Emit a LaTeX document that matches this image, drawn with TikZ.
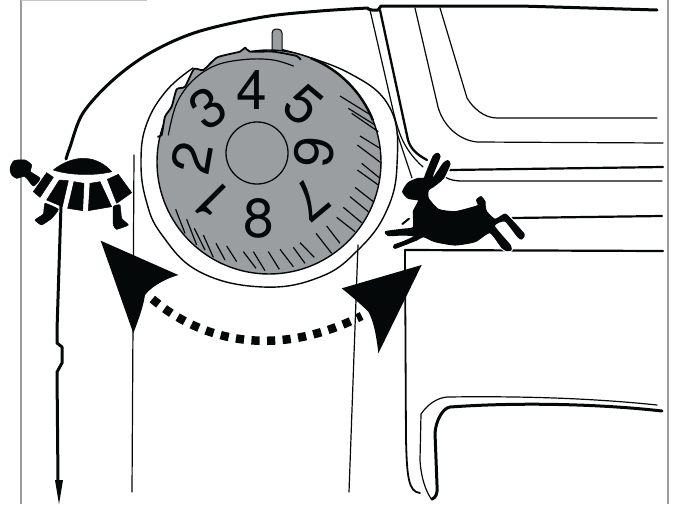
\documentclass[tikz,border=0pt]{standalone}
\usepackage{fontspec}
\setmainfont{TeX Gyre Heros}
\definecolor{dial}{HTML}{9A9EA1}
\definecolor{ink}{HTML}{050808}
\definecolor{framegrey}{HTML}{9C9C9C}
\tikzset{
  framing/.style={draw=framegrey,line width=1.5pt},
  thinline/.style={draw=ink,line width=1.2pt,line cap=round,line join=round},
  midline/.style={draw=ink,line width=1.8pt,line cap=round,line join=round},
  thickline/.style={draw=ink,line width=3pt,line cap=round,line join=round},
  hatch/.style={draw=ink,line width=1.2pt},
  solidink/.style={fill=ink,draw=ink,line width=0.5pt,line join=round},
  numeral/.style={font=\fontsize{55}{55}\selectfont,text=ink,inner sep=0pt}
}
\begin{document}
\begin{tikzpicture}[x=1pt,y=-1pt]
\useasboundingbox (0,0) rectangle (675,504);
\fill[white] (0,0) rectangle (675,504);
% frame
\draw[framing] (21,504) -- (21,0);
\draw[draw=framegrey!60,line width=1.5pt] (21,0.5) -- (147,0.5);
\draw[framing] (668,0) -- (668,504);
% big top contour
\draw[thickline] plot[smooth,tension=0.55] coordinates {(66,159) (70,147) (83,113) (113,80) (150,53) (197,32) (263,17) (320,11) (368,8)};
\draw[thickline] (368,9) -- (372,10) -- (378,10) -- (381,6) -- (520,6) -- (657,10);
% stripes
\draw[thinline] (370,10) -- (393,110) .. controls (398,130) and (402,148) .. (423,167);
\draw[thickline,line width=2.3pt] (380,10) -- (408,140) .. controls (411,150) and (418,155) .. (427,160);
\draw[thinline] (397,133) -- (412,178);
% window curves
\draw[thinline] (415,8) -- (438,107) .. controls (443,125) and (458,140) .. (477,142) -- (663,143);
\draw[thinline] (440,8) -- (467,98) .. controls (473,108) and (484,118) .. (497,118) -- (657,118);
% right horizontals
\draw[midline,line width=2.2pt] (450,170) -- (663,167);
\draw[thinline,line width=1.3pt] (445,177) .. controls (450,180) and (455,181) .. (463,181) -- (662,181);
\draw[midline,line width=2.2pt] (512,218) -- (662,216);
\draw[midline,line width=2.2pt] (405,250) -- (663,251);
\draw[midline] (405,250) -- (406,440) .. controls (407,475) and (408,492) .. (420,493);
% lower shape
\draw[thinline] (657,405) .. controls (590,398) and (520,396) .. (447,397) .. controls (437,398) and (428,404) .. (421,414) -- (420,460) .. controls (421,478) and (426,492) .. (432,500);
\draw[thickline] (662,411) .. controls (600,404) and (520,402) .. (450,407) .. controls (443,408) and (436,420) .. (435,433) -- (437,485) .. controls (438,495) and (435,498) .. (432,499);
% thin verticals
\draw[thinline] (134,155) -- (132,492);
\draw[thinline] (358,245) -- (349,492);
% outer ring
\draw[thinline,line width=1.4pt] plot[smooth,tension=0.7] coordinates {(193,68) (167,90) (147,123) (141,160) (146,200) (162,235) (200,272) (263,287) (320,277) (358,250) (386,212) (397,165) (390,108) (347,72) (280,49)};
% knob
\draw[draw=ink,fill=dial,line width=1pt,rounded corners=4pt] (272,53) -- (272,29) -- (282,29) -- (282,53);
% dial
\draw[fill=dial,draw=ink,line width=1.4pt] (269,162) circle[radius=112];
\draw[draw=ink,line width=2.4pt] (269,162) ++(-68:112) arc[start angle=-68,end angle=-22,radius=112];
\begin{scope}[shift={(130,0)},scale=1/3]
  \def\knurl{plot[smooth,tension=0.35] coordinates {(82,410) (95,405) (105,350) (125,320) (140,268) (165,260) (192,207) (220,210) (262,172) (330,155) (345,143) (360,155) (430,155) (500,168) (512,180)}}
  \fill[dial] \knurl -- (400,300) -- (200,400) -- cycle;
  \draw[draw=ink,line width=1.8pt,line join=round] \knurl;
  \draw[thinline] plot[smooth,tension=0.6] coordinates {(115,405) (140,310) (190,240) (260,195) (350,178) (430,180) (490,198)};
  \foreach \a/\b/\c/\d in {630/288/722/345,655/325/735/375,665/340/745/395,690/408/750/445,682/435/755/490,695/490/750/535,682/510/745/555,675/562/730/605,660/590/715/635,640/622/695/668,620/652/675/695,590/678/630/730,558/700/605/760,510/728/553/772,490/742/525/790,450/748/490/800,415/755/448/808,370/755/405/812,340/755/378/805,290/738/320/785,258/730/285/780,220/705/250/772,193/685/225/750,170/658/200/735,137/628/165/700}
    \draw[hatch] (\a,\b) -- (\c,\d);
\end{scope}
\draw[draw=ink,line width=1.3pt] (257,153) circle[radius=31];
% numerals
\node[numeral,rotate=135] (n1) at (212,200) {1};
\node[numeral,rotate=80] (n2) at (192,158) {2};
\node[numeral,rotate=35] (n3) at (208,108) {3};
\node[numeral] (n4) at (252,90) {4};
\node[numeral,rotate=-40] (n5) at (303,105) {5};
\node[numeral,rotate=-95] (n6) at (314,152) {6};
\node[numeral,rotate=-140] (n7) at (310,200) {7};
\node[numeral] (n8) at (259,218) {8};
% black line and arrow by the turtle
\draw[thickline,line width=3pt,line cap=butt] (61,205) -- (57,330) -- (57,343) -- (62,347) -- (62,363) -- (57,372) -- (58,482);
\fill[ink] (55,480) -- (63,480) -- (59,504) -- cycle;
% turtle
\begin{scope}[shift={(0,140)},scale=1/3]
  \fill[solidink] (160,90) .. controls (190,65) and (225,55) .. (250,55) .. controls (285,55) and (315,72) .. (335,95) .. controls (290,107) and (210,107) .. (160,90) -- cycle;
  \fill[solidink] plot[smooth cycle,tension=0.4] coordinates {(30,85) (42,62) (75,60) (95,75) (92,95) (120,115) (100,138) (75,110) (50,115) (35,105)};
  \fill[solidink] (100,155) -- (140,98) -- (160,112) -- (120,172) -- cycle;
  \fill[solidink] (140,180) -- (178,120) -- (205,122) -- (187,200) -- cycle;
  \fill[solidink] (203,205) -- (222,125) -- (252,130) -- (248,212) -- cycle;
  \fill[solidink] (265,212) -- (270,130) -- (300,125) -- (335,200) -- cycle;
  \fill[solidink] (322,118) -- (355,103) -- (395,158) -- (350,190) -- cycle;
  \fill[solidink] plot[smooth cycle,tension=0.25] coordinates {(135,190) (175,208) (155,235) (125,255) (105,240) (130,222)};
  \fill[solidink] plot[smooth cycle,tension=0.25] coordinates {(340,200) (360,195) (365,235) (385,255) (350,268) (340,255)};
\end{scope}
% rabbit
\begin{scope}[shift={(375,140)},scale=1/3]
  \def\rabbitpath{plot[smooth cycle,tension=0.35] coordinates {(83,155) (100,128) (130,115) (147,115) (152,103) (175,48) (188,40) (195,50) (175,100) (172,118) (205,70) (218,62) (225,72) (205,115) (175,140) (160,150) (160,175) (190,208) (240,215) (300,200) (310,195) (305,180) (318,170) (330,185) (330,195) (335,215) (360,238) (390,222) (405,235) (447,282) (440,297) (428,290) (390,243) (358,258) (405,315) (408,330) (395,332) (380,322) (345,278) (300,305) (240,315) (180,305) (145,290) (125,300) (60,325) (58,315) (85,305) (120,288) (80,285) (40,287) (32,275) (80,268) (115,262) (115,215) (125,195) (130,180) (100,175)}}
  \draw[draw=white,line width=3.4pt,line join=round] \rabbitpath;
  \filldraw[fill=ink,draw=ink,line width=1.1pt,line join=round] \rabbitpath;
  \draw[draw=ink,line width=2pt,line cap=round] (82,252) -- (102,236);
\end{scope}
% big arrowheads
\begin{scope}[shift={(90,230)},scale=1/3]
  \fill[ink] (32,32) -- (265,135) .. controls (215,150) and (180,175) .. (165,195) .. controls (160,230) and (145,270) .. (130,310) -- cycle;
  \fill[ink] (995,105) -- (865,370) .. controls (860,320) and (850,270) .. (835,245) .. controls (810,220) and (780,195) .. (755,175) -- cycle;
  \draw[draw=ink,line width=8.5pt,dash pattern=on 8.2pt off 7.4pt,line cap=butt] (187,207) .. controls (300,305) and (520,405) .. (815,258);
\end{scope}
\end{tikzpicture}
\end{document}
